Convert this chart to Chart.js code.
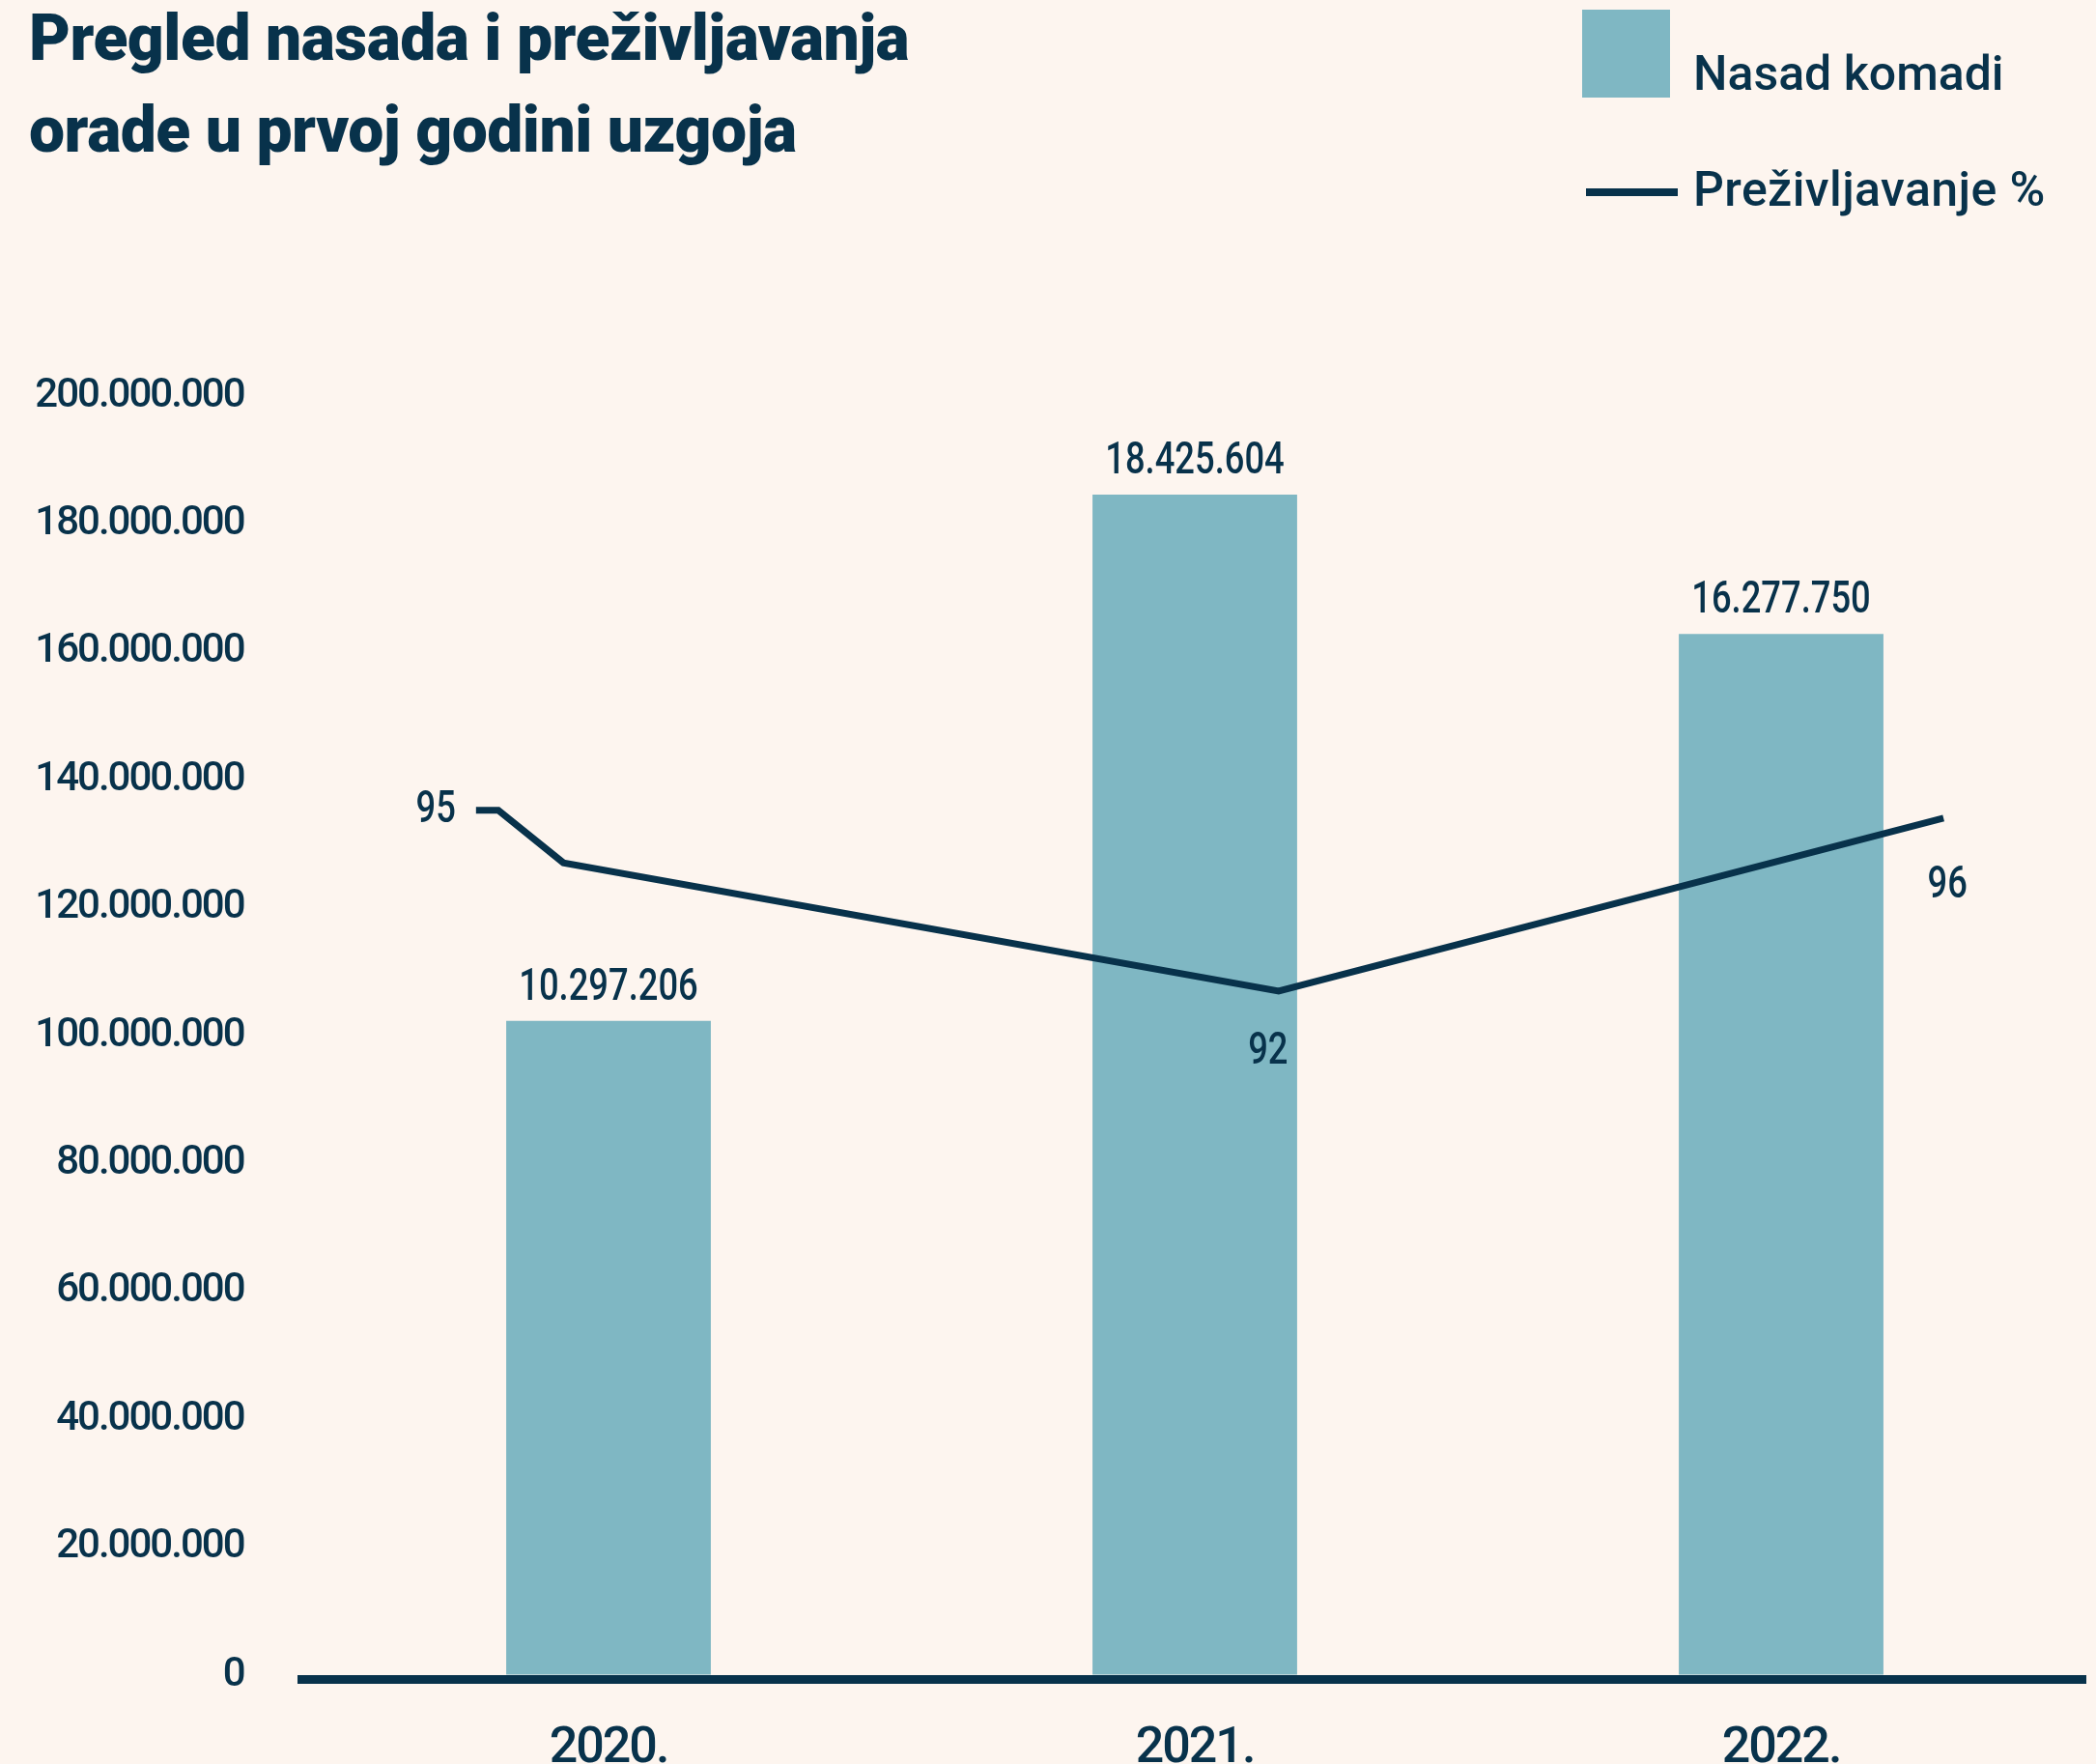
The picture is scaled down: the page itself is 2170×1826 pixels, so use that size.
<!DOCTYPE html>
<html>
<head>
<meta charset="utf-8">
<script src="https://cdn.jsdelivr.net/npm/chart.js@4/dist/chart.umd.min.js"></script>
<style>
  html, body { margin: 0; padding: 0; }
  body { width: 2170px; height: 1826px; background: #fdf5ef; position: relative; overflow: hidden; font-family: Roboto, sans-serif; color: #08324b; }
  #title { position: absolute; left: 30px; top: -8px; font-size: 66px; line-height: 95px; font-weight: 900; letter-spacing: -0.5px; margin: 0; }
  .leg-text { position: absolute; left: 1753px; font-size: 50px; line-height: 50px; font-weight: 500; }
  .swatch { position: absolute; }
  canvas { position: absolute; left: 0; top: 0; }
</style>
</head>
<body>
<h1 id="title">Pregled nasada i preživljavanja<br>orade u prvoj godini uzgoja</h1>
<div class="swatch" id="legBar" style="left:1638px; top:10px; width:91px; height:91px;"></div>
<div class="leg-text" style="top:51px;">Nasad komadi</div>
<div class="swatch" id="legLine" style="left:1642px; top:195px; width:95px; height:8px;"></div>
<div class="leg-text" style="top:171px; letter-spacing:0.4px;">Preživljavanje %</div>
<canvas id="chart" width="2170" height="1826"></canvas>
<script>
const navy = '#08324b';
const barColor = '#7fb7c3';

// categories and bar series (bar heights)
const years = ['2020.', '2021.', '2022.'];
const nasadValues = [102300000, 184600000, 162800000];
const nasadLabels = ['10.297.206', '18.425.604', '16.277.750'];

// survival line, as drawn (x in category units, y in %)
const survivalX = [-0.226, -0.188, -0.077, 1.143, 2.277];
const survivalY = [95, 95, 94.13, 92, 94.87];
const survivalLabels = ['95', '92', '96'];
const survivalLabelIdx = [0, 3, 4];

const yTicks = [0, 20000000, 40000000, 60000000, 80000000, 100000000, 120000000, 140000000, 160000000, 180000000, 200000000];

document.getElementById('legBar').style.background = barColor;
document.getElementById('legLine').style.background = navy;

const fmt = v => String(v).replace(/\B(?=(\d{3})+(?!\d))/g, '.');

const labelPlugin = {
  id: 'labels',
  beforeDraw(chart) {
    chart.ctx.letterSpacing = '-2px';
  },
  afterDatasetsDraw(chart) {
    const ctx = chart.ctx;
    const area = chart.chartArea;
    ctx.save();
    ctx.letterSpacing = '0px';
    // baseline
    ctx.fillStyle = navy;
    ctx.fillRect(area.left - 18.5, area.bottom, area.right - area.left + 31, 9);

    ctx.font = '500 46px Roboto';
    ctx.textBaseline = 'alphabetic';
    const sx = 0.79;
    const drawText = (txt, x, y, align) => {
      ctx.save();
      ctx.textAlign = align;
      ctx.translate(x, y);
      ctx.scale(sx, 1);
      ctx.fillText(txt, 0, 0);
      ctx.restore();
    };
    chart.getDatasetMeta(0).data.forEach((bar, i) => {
      drawText(nasadLabels[i], bar.x, bar.y - 22, 'center');
    });
    const pts = chart.getDatasetMeta(1).data;
    const offs = [[-21, 12, 'right'], [-11, 75, 'center'], [4, 82, 'center']];
    survivalLabelIdx.forEach((idx, i) => {
      const p = pts[idx];
      drawText(survivalLabels[i], p.x + offs[i][0], p.y + offs[i][1], offs[i][2]);
    });
    ctx.restore();
  }
};

new Chart(document.getElementById('chart'), {
  type: 'bar',
  data: {
    labels: years,
    datasets: [
      {
        label: 'Nasad komadi',
        data: nasadValues,
        backgroundColor: barColor,
        xAxisID: 'x',
        yAxisID: 'y',
        grouped: false,
        categoryPercentage: 1,
        barPercentage: 0.349,
        order: 2
      },
      {
        type: 'line',
        label: 'Preživljavanje %',
        data: survivalX.map((x, i) => ({ x: x, y: survivalY[i] })),
        borderColor: navy,
        borderWidth: 7,
        pointRadius: 0,
        tension: 0,
        xAxisID: 'xl',
        yAxisID: 'yp',
        order: 1
      }
    ]
  },
  options: {
    responsive: false,
    animation: false,
    devicePixelRatio: 1,
    layout: { padding: { top: 410, right: 22.5, bottom: 0, left: 0 } },
    plugins: { legend: { display: false }, tooltip: { enabled: false } },
    scales: {
      x: {
        type: 'category',
        offset: true,
        grid: { display: false, drawTicks: false },
        border: { display: false },
        ticks: { color: navy, padding: 46, font: { family: 'Roboto', size: 52, weight: '500' } },
        afterFit: s => { s.height = 92; }
      },
      y: {
        min: 0,
        max: 200000000,
        // invisible tick marks give the gap between labels and plot
        grid: { display: true, drawOnChartArea: false, drawTicks: true, tickLength: 74, color: 'rgba(0,0,0,0)' },
        border: { display: false },
        afterBuildTicks: s => { s.ticks = yTicks.map(v => ({ value: v })); },
        ticks: {
          color: navy,
          padding: 0,
          font: { family: 'Roboto', size: 42, weight: '500' },
          callback: v => fmt(v)
        },
        afterFit: s => { s.width = 326.5; }
      },
      xl: { type: 'linear', display: false, offset: false, min: -0.5, max: 2.5 },
      yp: { type: 'linear', display: false, offset: false, min: 80.64, max: 101.88 }
    }
  },
  plugins: [labelPlugin]
});
</script>
</body>
</html>
